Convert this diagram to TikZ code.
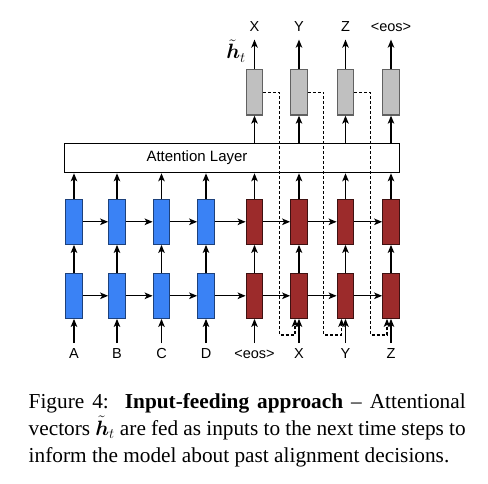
\documentclass[tikz,border=0pt]{standalone}
\usepackage{fontspec}
\setmainfont{Liberation Serif}
\setsansfont{Liberation Sans}
\usepackage{bm}
\usetikzlibrary{arrows.meta,calc}
\definecolor{encblue}{RGB}{58,130,245}
\definecolor{decred}{RGB}{156,43,43}
\definecolor{attgray}{RGB}{192,192,192}
\begin{document}
\begin{tikzpicture}
  [x=1pt,y=-1pt,
   line width=1.4pt,
   >={Stealth[length=8pt,width=6.5pt,inset=2pt]},
   cellN/.style={rectangle,draw,line width=1.2pt,minimum width=16.5pt,minimum height=45pt,inner sep=0pt},
   encN/.style={cellN,fill=encblue,draw=encblue!50!black},
   decN/.style={cellN,fill=decred,draw=decred!40!black},
   outN/.style={cellN,fill=attgray,draw=black!62,minimum height=45.7pt},
   wordN/.style={font=\sffamily\fontsize{14.5}{16}\selectfont,inner sep=0pt,text height=10.4pt,text depth=0pt},
   feed/.style={->,line width=1.2pt,dash pattern=on 3pt off 2pt}
  ]
  \useasboundingbox (0,0) rectangle (488,484);

  \foreach \i/\x/\w in {1/74/A,2/117/B,3/161.5/C,4/206/D,5/254.5/{<eos>},6/299/X,7/345.5/Y,8/391/Z} {
     \node[wordN] (in\i) at (\x,353) {\w};
  }
  \foreach \i/\x in {1/74,2/117,3/161.5,4/206} {
     \node[encN] (l1\i) at (\x,295.8) {};
     \node[encN] (l2\i) at (\x,221.8) {};
  }
  \foreach \i/\x in {5/254.5,6/299,7/345.5,8/391} {
     \node[decN] (l1\i) at (\x,295.8) {};
     \node[decN] (l2\i) at (\x,221.8) {};
  }

  \node[draw,line width=1.2pt,fill=white,minimum width=335pt,minimum height=29.4pt] (att) at (231.8,158) {};
  \node[font=\sffamily\fontsize{15}{17}\selectfont] (attL) at (197,158) {Attention Layer};

  \foreach \i/\x/\w in {5/254.5/X,6/299/Y,7/345.5/Z,8/391/{<eos>}} {
     \node[outN] (g\i) at (\x,92.2) {};
     \node[wordN] (out\i) at (\x,26.7) {\w};
     \draw[->] (att.north -| g\i) -- (g\i.south);
     \draw[->] (g\i.north) -- ([yshift=-7pt]out\i.south);
  }
  \node[inner sep=0pt] (ht) at (236,51) {\fontsize{22}{26}\selectfont$\tilde{\bm h}_t$};

  % stacked LSTM connections
  \foreach \i in {1,...,8} {
      \draw[->] ([yshift=4pt]in\i.north) -- (l1\i.south);
      \draw[->] (l1\i.north) -- (l2\i.south);
      \draw[->] (l2\i.north) -- (l2\i.north |- att.south);
  }
  \foreach \x/\y in {1/2,2/3,3/4,4/5,5/6,6/7,7/8} {
      \draw[->] (l1\x.east) -- (l1\y.west);
      \draw[->] (l2\x.east) -- (l2\y.west);
  }

  % input feeding
  \foreach \x/\y in {5/6,6/7,7/8} {
      \draw[feed] (g\x.east) -- ++(16,0) |- ($(l1\y.south)+(-4,16)$) -- ([xshift=-4pt]l1\y.south);
  }

  \node[anchor=north west,inner sep=0pt,align=left,
        font=\fontsize{21.3}{27}\selectfont] (cap) at (28,392.5)
    {\makebox[437pt][s]{Figure 4:\ \ \textbf{Input-feeding approach} -- Attentional}\\
     \makebox[437pt][s]{vectors $\tilde{\bm h}_t$ are fed as inputs to the next time steps to}\\
     inform the model about past alignment decisions.};
\end{tikzpicture}
\end{document}
